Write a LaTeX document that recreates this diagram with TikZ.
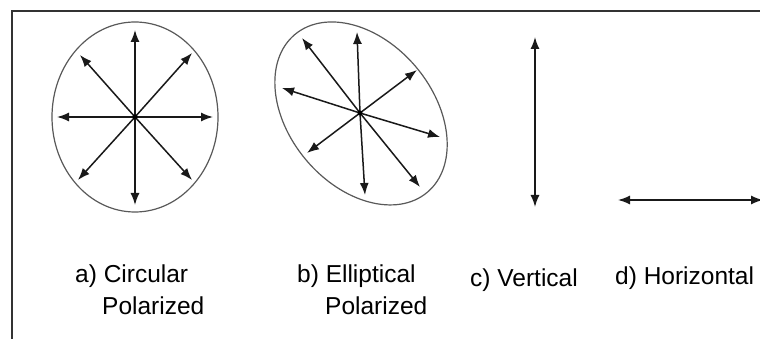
\documentclass[tikz,border=0pt]{standalone}
\usepackage{fontspec}
\setmainfont{Liberation Sans}
\usetikzlibrary{arrows.meta}
\begin{document}
\begin{tikzpicture}[x=1pt,y=-1pt,
  tip/.tip={Latex[length=12pt,width=9pt]},
  vec/.style={draw=black!90,line width=1.5pt,-tip},
  dvec/.style={draw=black!90,line width=1.5pt,tip-tip},
  outline/.style={draw=black!65,line width=1.2pt},
  frameline/.style={draw=black!80,line width=2pt},
  lbl/.style={anchor=base west,inner sep=0pt,font=\fontsize{24.5}{29}\selectfont,text=black}]
\useasboundingbox (0,0) rectangle (760,339);
\fill[white] (0,0) rectangle (760,339);
% frame
\coordinate (fTR) at (762,11.5);
\coordinate (fTL) at (11.5,11.5);
\coordinate (fBL) at (11.5,341);
\draw[frameline] (fTR) -- (fTL) -- (fBL);
% a) circular
\coordinate (ca) at (135,117);
\draw[outline] (ca) ellipse [x radius=83, y radius=95];
\foreach \dx/\dy in {0/-87,0/88,-78/0,78/0,-55/-62,57/-64,-57/63,57/63}
  \draw[vec] (ca) -- ++(\dx,\dy);
\fill[black] (ca) circle [radius=2.5];
% b) elliptical
\coordinate (cb) at (360,113);
\draw[outline,rotate around={-50:(cb)}] (361,112.5) ellipse [x radius=103, y radius=72];
\foreach \dx/\dy in {-3/-81,-58/-75,-78/-25,57/-43,80/24,-53/40,5/82,60/74}
  \draw[vec] (cb) -- ++(\dx,\dy);
\fill[black] (cb) circle [radius=2.5];
% c) vertical
\coordinate (v1) at (535,37);
\coordinate (v2) at (535,207);
\draw[dvec] (v1) -- (v2);
% d) horizontal
\coordinate (h1) at (618,200);
\coordinate (h2) at (763,200);
\draw[dvec] (h1) -- (h2);
% labels
\node[lbl] (la1) at (75,282) {a) Circular};
\node[lbl] (la2) at (102,314) {Polarized};
\node[lbl] (lb1) at (297,282) {b) Elliptical};
\node[lbl] (lb2) at (325,314) {Polarized};
\node[lbl] (lc) at (470,286) {c) Vertical};
\node[lbl] (ld) at (615,284) {d) Horizontal};
\end{tikzpicture}
\end{document}
